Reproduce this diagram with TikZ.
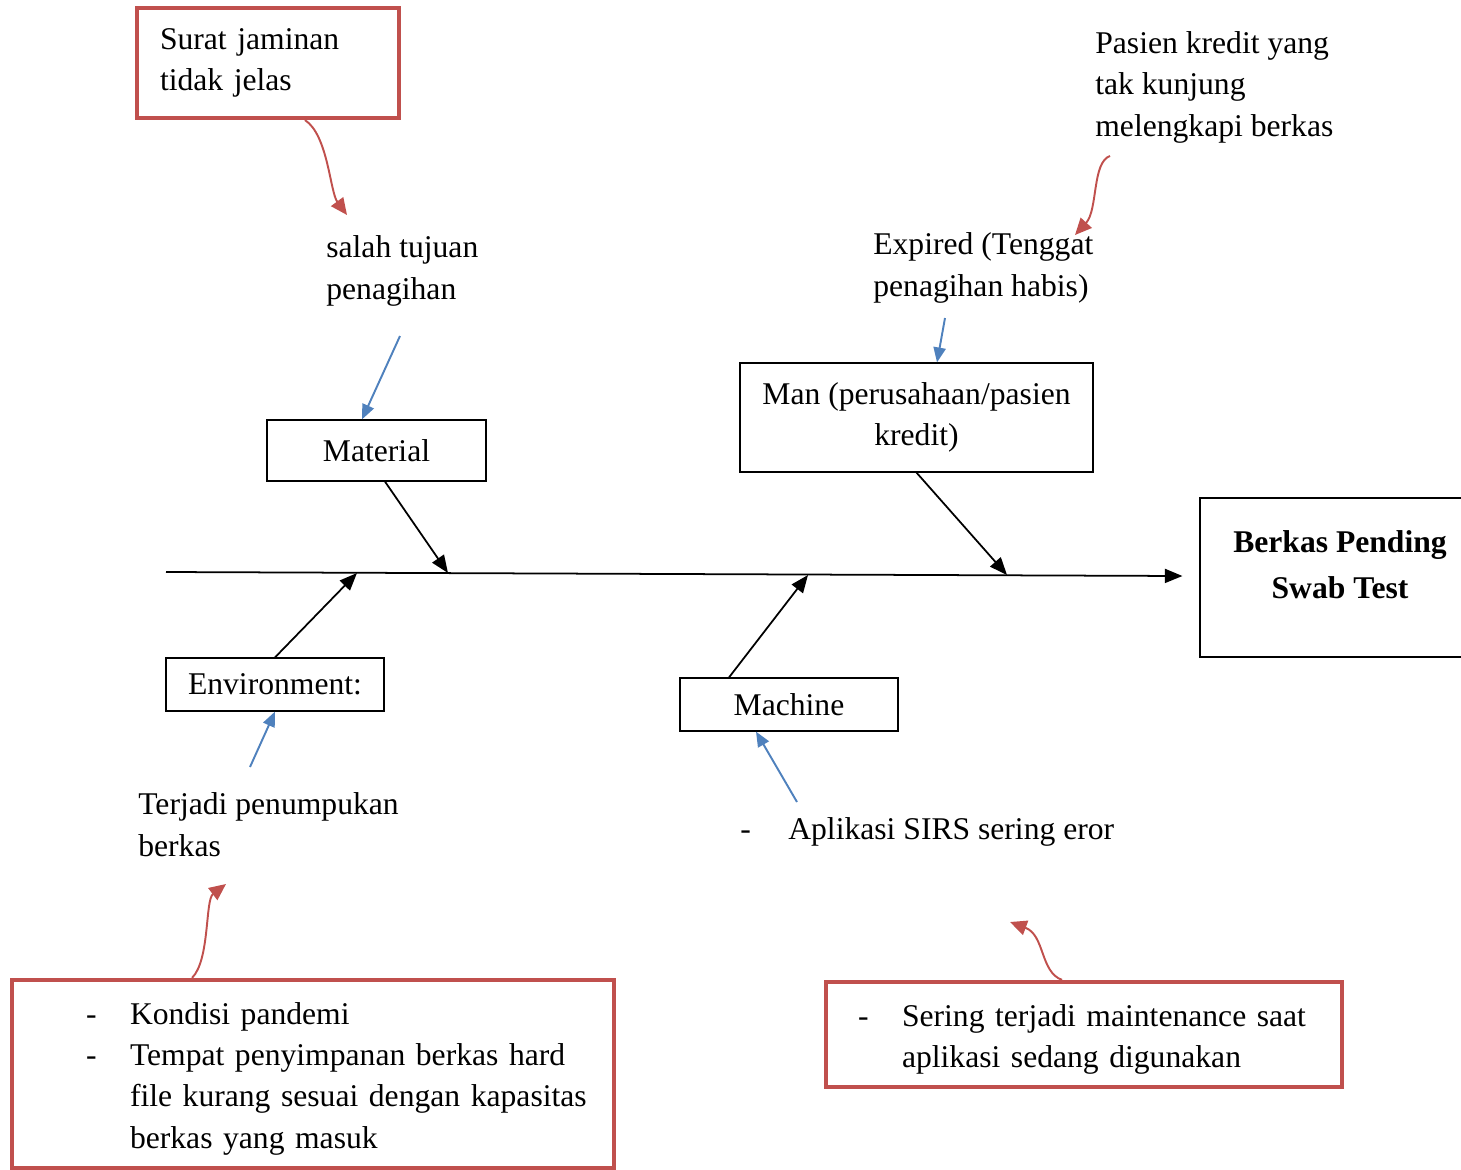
\documentclass[tikz,border=0pt]{standalone}
\usepackage{fontspec}
\setmainfont{Liberation Serif}
\usetikzlibrary{arrows.meta}

\definecolor{whyred}{HTML}{C0504D}
\definecolor{causeblue}{HTML}{4F81BD}

\tikzset{
  every node/.style={font=\fontsize{18}{23.5}\selectfont},
  bone/.style={draw,line width=0.7pt,inner sep=0pt},
  redbox/.style={draw=whyred,line width=2.4pt,inner ysep=0pt,align=left},
  note/.style={inner sep=0pt,align=left,anchor=base west},
  effect/.style={line width=1pt,-{Triangle[length=10pt,width=8pt]}},
  cause/.style={causeblue,line width=1.1pt,-{Triangle[length=8.5pt,width=7pt]}},
  why/.style={whyred,line width=1.1pt,-{Triangle[length=9.5pt,width=8.5pt]}},
}

\begin{document}
\begin{tikzpicture}[x=0.02cm,y=-0.02cm]
  \useasboundingbox (0,0) rectangle (1461,1170);
  % head and spine
  \node[bone,minimum width=5.6cm,minimum height=3.18cm,align=center,
    font=\fontsize{18}{26}\selectfont\bfseries] (result) at (1340,577.5)
    {Berkas Pending\\Swab Test\rule[-0.52cm]{0pt}{0.52cm}};
  \coordinate (tail) at (166,572);
  \draw[effect] (tail) -- ([xshift=-0.34cm,yshift=0.03cm]result.west);
  % bones
  \node[bone,minimum width=4.38cm,minimum height=1.22cm] (material) at (376.5,450.5) {Material};
  \node[bone,minimum width=7.06cm,minimum height=2.18cm,align=center] (man) at (916.5,417.5)
    {Man (perusahaan/pasien\\kredit)};
  \node[bone,minimum width=4.36cm,minimum height=1.06cm] (environment) at (275,684.5) {Environment:};
  \node[bone,minimum width=4.36cm,minimum height=1.06cm] (machine) at (789,704.5) {Machine};
  \coordinate (onenv) at (357,573);
  \coordinate (onmat) at (448,573);
  \coordinate (onmach) at (808,575);
  \coordinate (onman) at (1007,575);
  \draw[effect] ([xshift=0.17cm]material.south) -- (onmat);
  \draw[effect] (man.south) -- (onman);
  \draw[effect] (environment.north) -- (onenv);
  \draw[effect] ([xshift=-1.2cm]machine.north) -- (onmach);
  % causes
  \node[note] (salah) at (326,299) {salah tujuan\\penagihan};
  \node[note] (expired) at (873,296) {Expired (Tenggat\\penagihan habis)};
  \node[note] (terjadi) at (138,856) {Terjadi penumpukan\\berkas};
  \node[note] (aplikasi) at (740,839)
    {\begin{tabular}[t]{@{}p{0.96cm}@{}l@{}}-&Aplikasi SIRS sering eror\end{tabular}};
  \coordinate (c1) at (400,336);
  \coordinate (c2) at (945,318);
  \coordinate (c3) at (250,767);
  \coordinate (c4) at (797,802);
  \draw[cause] (c1) -- ([xshift=-0.29cm]material.north);
  \draw[cause] (c2) -- ([xshift=0.41cm]man.north);
  \draw[cause] (c3) -- (environment.south);
  \draw[cause] (c4) -- ([xshift=-0.66cm]machine.south);
  % why-why
  \node[redbox,minimum width=5.24cm,minimum height=2.2cm,inner xsep=0.46cm,text width=4.32cm]
    (surat) at (268,63) {Surat jaminan\\tidak jelas};
  \node[note] (pasien) at (1095,136) {Pasien kredit yang\\tak kunjung\\melengkapi berkas};
  \node[redbox,minimum width=12.04cm,minimum height=3.76cm,inner xsep=1.48cm,text width=9.08cm]
    (pandemi) at (313,1074)
    {\raisebox{-0.08cm}[\height][\depth]{\begin{tabular}{@{}p{0.88cm}@{}l@{}}
      -&Kondisi pandemi\\
      -&Tempat penyimpanan berkas hard\\
       &file kurang sesuai dengan kapasitas\\
       &berkas yang masuk
     \end{tabular}}};
  \node[redbox,minimum width=10.32cm,minimum height=2.1cm,inner xsep=0.64cm,text width=9.04cm]
    (maint) at (1084,1034.5)
    {\raisebox{-0.08cm}[\height][\depth]{\begin{tabular}{@{}p{0.88cm}@{}l@{}}
      -&Sering terjadi maintenance saat\\
       &aplikasi sedang digunakan
     \end{tabular}}};
  \coordinate (w1) at (347,215);
  \coordinate (p1) at (1110,156);
  \coordinate (w2) at (1075,235);
  \coordinate (w3) at (226,884);
  \coordinate (w4) at (1010,922);
  \draw[why] ([xshift=0.74cm]surat.south) .. controls (328,135) and (330,192) .. (w1);
  \draw[why] (p1) .. controls (1092,162) and (1098,210) .. (w2);
  \draw[why] ([xshift=-2.42cm]pandemi.north) .. controls (210,960) and (205,900) .. (w3);
  \draw[why] ([xshift=-0.44cm]maint.north) .. controls (1040,972) and (1045,935) .. (w4);
\end{tikzpicture}
\end{document}
